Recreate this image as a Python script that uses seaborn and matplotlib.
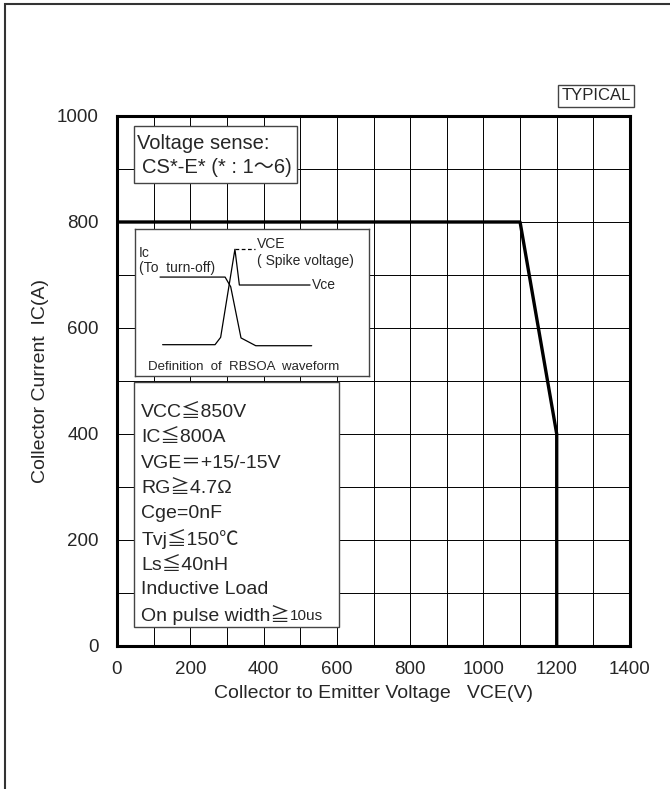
import numpy as np
import pandas as pd
import seaborn as sns
import matplotlib.pyplot as plt
from matplotlib.patches import Rectangle

# RBSOA boundary
vce = [0, 1100, 1200, 1200]
ic = [800, 800, 400, 0]

x_ticks = [0, 200, 400, 600, 800, 1000, 1200, 1400]
y_ticks = [0, 200, 400, 600, 800, 1000]

# sketch of turn-off waveform (inset units 0-100)
wave_ic_t = [10.7, 38.5, 40.9, 45.3, 51.6, 75.5]
wave_ic_v = [67.3, 67.3, 60.7, 25.9, 20.6, 20.6]
wave_vce_t = [11.8, 34.2, 36.6, 42.7, 44.6, 74.8]
wave_vce_v = [21.3, 21.3, 26.3, 86.2, 61.9, 61.9]

conditions = ['VCC≦850V', 'IC≦800A', 'VGE＝+15/-15V', 'RG≧4.7Ω', 'Cge=0nF',
              'Tvj≦150℃', 'Ls≦40nH', 'Inductive Load', 'On pulse width≧']

sns.set_style('white')
plt.rcParams['font.family'] = ['Liberation Sans', 'Noto Sans CJK JP', 'DejaVu Sans']

W, H = 670, 789
fig = plt.figure(figsize=(W / 100, H / 100), dpi=100)
ax = fig.add_axes([117 / W, 1 - 646 / H, 513 / W, 530 / H])

df = pd.DataFrame({'VCE': vce, 'IC': ic})
sns.lineplot(data=df, x='VCE', y='IC', sort=False, estimator=None,
             color='black', lw=2.4, ax=ax, zorder=4)

ax.set_xlim(0, 1400)
ax.set_ylim(0, 1000)
ax.set_xticks(x_ticks)
ax.set_yticks(y_ticks)
ax.set_xticks(range(0, 1401, 100), minor=True)
ax.set_yticks(range(0, 1001, 100), minor=True)
ax.grid(True, which='both', color='black', lw=0.7)
ax.tick_params(which='both', length=0, labelsize=13.5)
ax.tick_params(axis='x', pad=11)
ax.tick_params(axis='y', pad=13)
for s in ax.spines.values():
    s.set_visible(True)
    s.set_color('black')
    s.set_linewidth(2.2)
    s.set_zorder(5)

ax.set_xlabel('Collector to Emitter Voltage   VCE(V)', fontsize=14, labelpad=5)
ax.set_ylabel('Collector Current  IC(A)', fontsize=14, labelpad=6)

# voltage sense box
ax.add_patch(Rectangle((46, 874), 446, 107, facecolor='white', edgecolor='#444', lw=1, zorder=6))
ax.text(55, 949, 'Voltage sense:', fontsize=14.5, va='center', zorder=7)
ax.text(68, 902, 'CS*-E* (* : 1～6)', fontsize=14.5, va='center', zorder=7)

# conditions box
ax.add_patch(Rectangle((46, 36), 561, 462, facecolor='white', edgecolor='#444', lw=1, zorder=6))
ys = [440, 393, 345, 297, 250, 202, 152, 106, 58]
for t, y in zip(conditions, ys):
    last = ax.text(66, y, t, fontsize=14, va='center', zorder=7)
ax.annotate('10us', xy=(1, 0.12), xycoords=last, fontsize=11, va='bottom', zorder=7)

# waveform inset
ins = fig.add_axes([135 / W, 1 - 376 / H, 234 / W, 147 / H])
ins.set_xlim(0, 100)
ins.set_ylim(0, 100)
ins.set_xticks([])
ins.set_yticks([])
for s in ins.spines.values():
    s.set_visible(True)
    s.set_color('#444')
    s.set_linewidth(1)
sns.lineplot(x=wave_ic_t, y=wave_ic_v, sort=False, estimator=None, color='black', lw=0.9, ax=ins)
sns.lineplot(x=wave_vce_t, y=wave_vce_v, sort=False, estimator=None, color='black', lw=0.9, ax=ins)
ins.plot([wave_vce_t[3], 51.3], [wave_vce_v[3], wave_vce_v[3]], color='black', lw=0.9, ls=(0, (3, 2)))
ins.text(1.5, 83.5, 'Ic', fontsize=10, va='center')
ins.text(1.5, 73.5, '(To  turn-off)', fontsize=10, va='center')
ins.text(52, 90, 'VCE', fontsize=10, va='center')
ins.text(52, 78.5, '( Spike voltage)', fontsize=10, va='center')
ins.text(75.6, 61.9, 'Vce', fontsize=10, va='center')
ins.text(5.5, 6, 'Definition  of  RBSOA  waveform', fontsize=9.5, va='center')

# TYPICAL tag
fig.text(596 / W, 1 - 96 / H, 'TYPICAL', fontsize=12, ha='center', va='center',
         bbox=dict(boxstyle='square,pad=0.2', facecolor='white', edgecolor='#444', lw=1))

# page frame
fig.add_artist(Rectangle((5 / W, -0.1), 2, 1 - 4 / H + 0.1, transform=fig.transFigure,
                         fill=False, lw=1.5, edgecolor='#333'))

fig.savefig('out.png', dpi=100)
